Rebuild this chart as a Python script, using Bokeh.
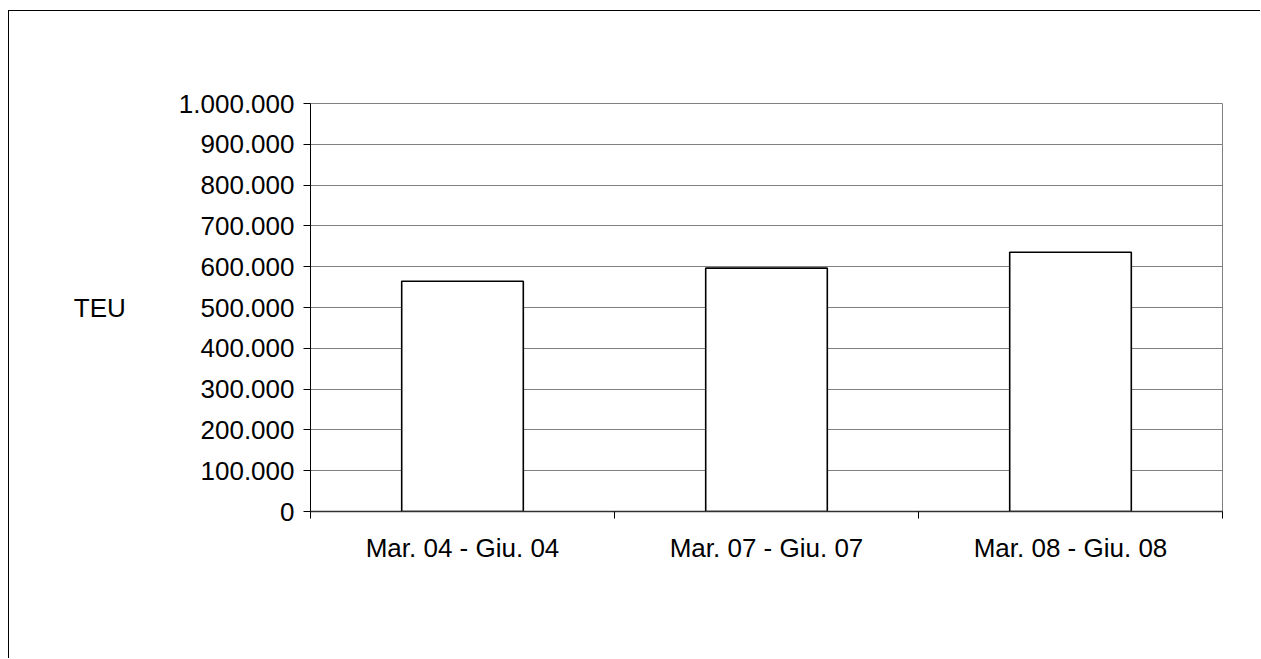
from bokeh.plotting import figure
from bokeh.models import FixedTicker, Range1d, ColumnDataSource
from bokeh.embed import file_html
from bokeh.resources import INLINE

categories = ["Mar. 04 - Giu. 04", "Mar. 07 - Giu. 07", "Mar. 08 - Giu. 08"]
teu = [564500, 596500, 635500]
y_ticks = [0, 100000, 200000, 300000, 400000, 500000, 600000, 700000, 800000, 900000, 1000000]
y_label = "TEU"

x = [i + 0.5 for i in range(len(categories))]
src = ColumnDataSource(dict(x=x, top=teu))

FONT = "Liberation Sans"
FS = "26px"

p = figure(width=1252, height=648, output_backend="svg", toolbar_location=None,
           x_range=Range1d(0, len(categories)), y_range=Range1d(0, y_ticks[-1]),
           min_border_left=301, min_border_right=39, min_border_top=92, min_border_bottom=148)
p.styles = {"border-left": "1px solid black", "border-top": "1px solid black",
            "margin-top": "10px", "margin-left": "8px"}
p.outline_line_color = "#808080"
p.outline_line_width = 1

p.vbar(x="x", top="top", width=0.4, source=src, fill_color="white",
       line_color="black", line_width=1.6)

# x axis
p.xaxis.ticker = FixedTicker(ticks=x, minor_ticks=[float(i) for i in range(len(categories) + 1)])
p.xaxis.major_label_overrides = {xx: c for xx, c in zip(x, categories)}
p.xaxis.major_tick_out = 0
p.xaxis.major_tick_in = 0
p.xaxis.minor_tick_out = 7
p.xaxis.minor_tick_in = 0
p.xaxis.minor_tick_line_color = "black"
p.xaxis.axis_line_color = "#303030"
p.xaxis.axis_line_width = 1.5
p.xaxis.major_label_text_font = FONT
p.xaxis.major_label_text_font_size = FS
p.xaxis.major_label_text_color = "black"
p.xaxis.major_label_standoff = 14
p.xgrid.visible = False

# y axis
p.yaxis.ticker = FixedTicker(ticks=y_ticks)
p.yaxis.major_label_overrides = {v: f"{v:,}".replace(",", ".") for v in y_ticks}
p.yaxis.major_tick_out = 7
p.yaxis.major_tick_in = 0
p.yaxis.minor_tick_line_color = None
p.yaxis.axis_line_color = "black"
p.yaxis.major_tick_line_color = "black"
p.yaxis.major_label_text_font = FONT
p.yaxis.major_label_text_font_size = FS
p.yaxis.major_label_text_color = "black"
p.yaxis.major_label_standoff = 9
p.yaxis.axis_label = y_label
p.yaxis.axis_label_orientation = "horizontal"
p.yaxis.axis_label_text_font = FONT
p.yaxis.axis_label_text_font_size = FS
p.yaxis.axis_label_text_font_style = "normal"
p.yaxis.axis_label_text_color = "black"
p.yaxis.axis_label_standoff = 50
p.ygrid.grid_line_color = "#808080"
p.ygrid.grid_line_width = 1

open("out.html", "w").write(file_html(p, INLINE))
